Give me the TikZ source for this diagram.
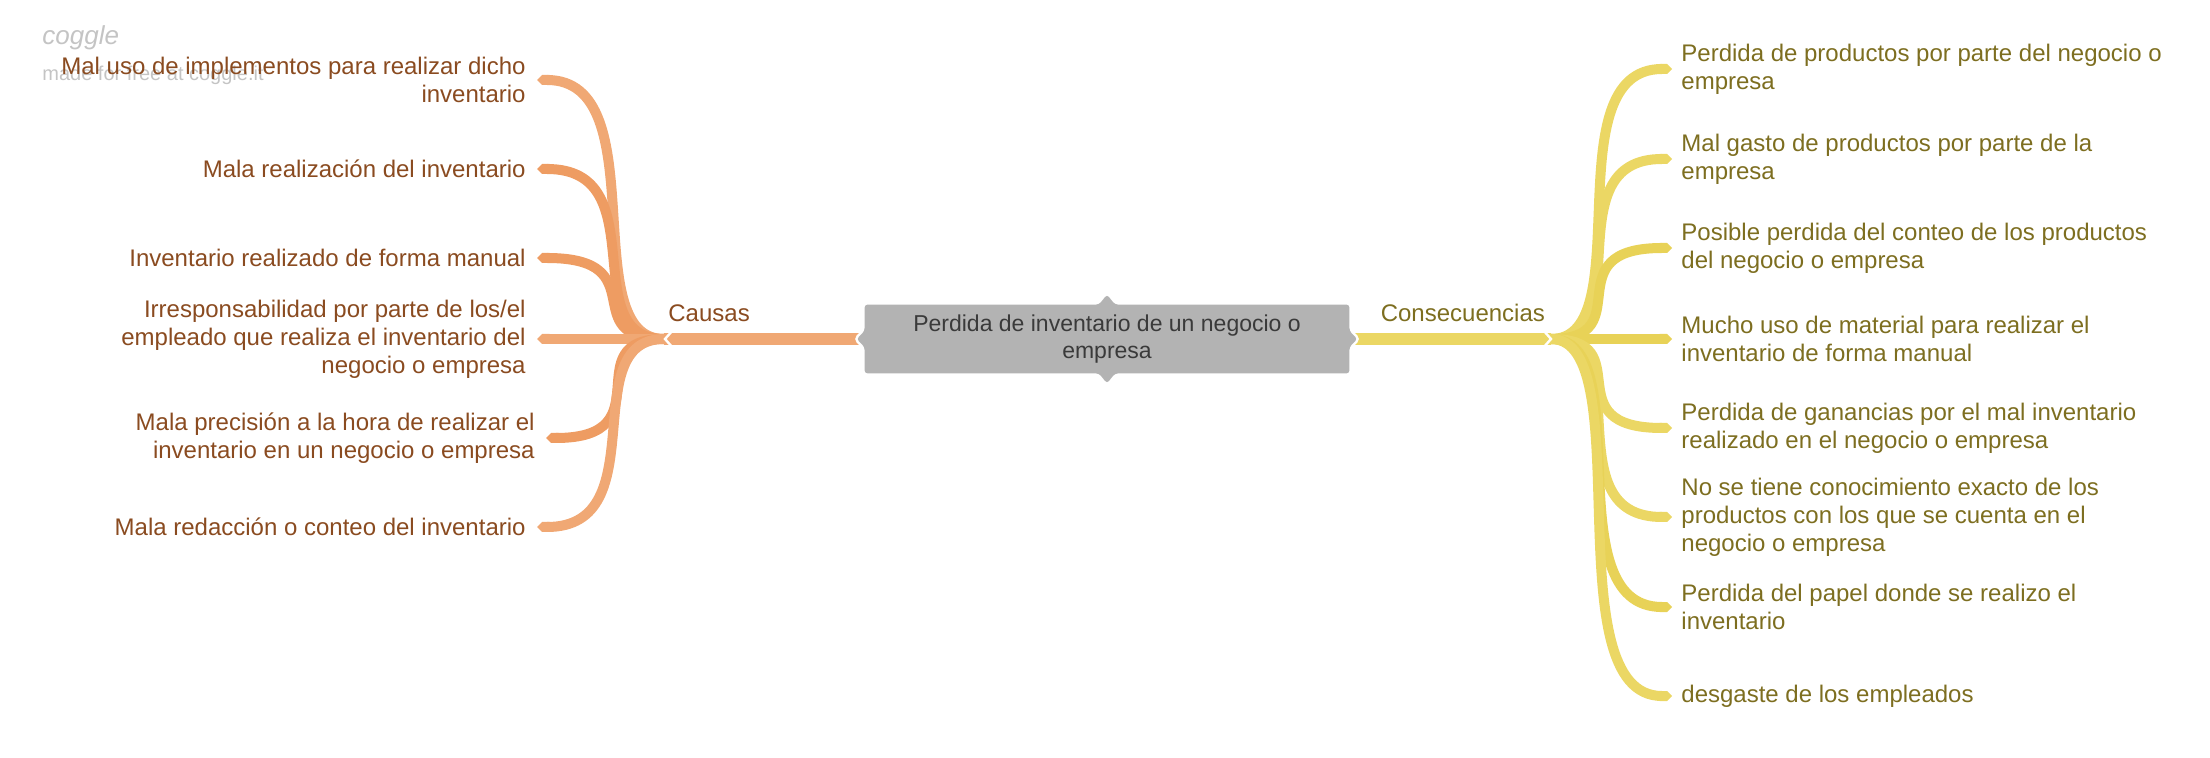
\documentclass[tikz,border=0pt]{standalone}
\usepackage{fontspec}
\setmainfont{Liberation Sans}
\usetikzlibrary{positioning,arrows.meta,backgrounds}
\definecolor{causeline}{HTML}{F0A874}
\definecolor{causedark}{HTML}{EE9C62}
\definecolor{causetext}{HTML}{8A4B20}
\definecolor{effectline}{HTML}{EBD764}
\definecolor{effectdark}{HTML}{E8D257}
\definecolor{effecttext}{HTML}{7D6E20}
\definecolor{rootfill}{HTML}{B3B3B3}
\definecolor{roottext}{HTML}{3A3A3A}
\definecolor{marktext}{HTML}{C4C4C4}
\tikzset{
  leaftext/.style={inner sep=0pt, font=\fontsize{12}{14}\selectfont},
  cause/.style={leaftext, text=causetext, align=right},
  effect/.style={leaftext, text=effecttext, align=left},
  root/.style={inner sep=0pt, minimum width=242pt, minimum height=34pt, align=center,
    text=roottext, font=\fontsize{11.5}{13.5}\selectfont},
  watermark/.style={inner sep=0pt, text=marktext},
  twig/.style={line width=5pt, -{Triangle Cap}},
  limb/.style={line width=6pt},
  notch/.style={white, line width=1.2pt},
}
\begin{document}
\begin{tikzpicture}[x=0.5pt, y=-0.5pt]
\useasboundingbox (0,0) rectangle (2210,758);

% watermark
\node[watermark, anchor=base west, font=\fontsize{13}{14}\selectfont\itshape] (logo) at (42,45) {coggle};
\node[watermark, anchor=base west, font=\fontsize{10}{12}\selectfont] (madefor) at (42,81) {made for free at coggle.it};

% centre
\node[root] (root) at (1107,339) {Perdida de inventario de un negocio o\\empresa};
\coordinate (hubL) at (664,339);
\coordinate (hubR) at (1551,339);
\node[cause, anchor=south west, above right=8.5pt and 2pt of hubL] (causas) {Causas};
\node[effect, anchor=south west, above right=8.5pt and 15.5pt of root.east] (consec) {Consecuencias};

% causas
\coordinate (c1) at (537,80);
\coordinate (c2) at (537,169);
\coordinate (c3) at (537,258);
\coordinate (c4) at (537,339);
\coordinate (c5) at (546,438);
\coordinate (c6) at (537,527);
\node[cause, left=5.5pt of c1] (cause1) {Mal uso de implementos para realizar dicho\\inventario};
\node[cause, left=5.5pt of c2] (cause2) {Mala realización del inventario};
\node[cause, left=5.5pt of c3] (cause3) {Inventario realizado de forma manual};
\node[cause, left=5.5pt of c4] (cause4) {Irresponsabilidad por parte de los/el\\empleado que realiza el inventario del\\negocio o empresa};
\node[cause, left=5.5pt of c5] (cause5) {Mala precisión a la hora de realizar el\\inventario en un negocio o empresa};
\node[cause, left=5.5pt of c6] (cause6) {Mala redacción o conteo del inventario};

% consecuencias
\coordinate (e1) at (1672,69);
\coordinate (e2) at (1672,159);
\coordinate (e3) at (1672,248);
\coordinate (e4) at (1672,339);
\coordinate (e5) at (1672,428);
\coordinate (e6) at (1672,517);
\coordinate (e7) at (1672,607);
\coordinate (e8) at (1672,696);
\node[effect, right=4.5pt of e1] (effect1) {Perdida de productos por parte del negocio o\\empresa};
\node[effect, right=4.5pt of e2] (effect2) {Mal gasto de productos por parte de la\\empresa};
\node[effect, right=4.5pt of e3] (effect3) {Posible perdida del conteo de los productos\\del negocio o empresa};
\node[effect, right=4.5pt of e4] (effect4) {Mucho uso de material para realizar el\\inventario de forma manual};
\node[effect, right=4.5pt of e5] (effect5) {Perdida de ganancias por el mal inventario\\realizado en el negocio o empresa};
\node[effect, right=4.5pt of e6] (effect6) {No se tiene conocimiento exacto de los\\productos con los que se cuenta en el\\negocio o empresa};
\node[effect, right=4.5pt of e7] (effect7) {Perdida del papel donde se realizo el\\inventario};
\node[effect, right=4.5pt of e8] (effect8) {desgaste de los empleados};

\begin{scope}[on background layer]
  \foreach \leaf/\tone in {c1/causeline, c2/causedark, c3/causedark, c4/causeline, c5/causedark, c6/causeline}
    \draw[twig, \tone] (hubL) .. controls +(-90,0) and +(120,0) .. (\leaf);
  \foreach \leaf/\tone in {e1/effectline, e2/effectline, e3/effectdark, e4/effectdark, e5/effectline, e6/effectline, e7/effectdark, e8/effectline}
    \draw[twig, \tone] (hubR) .. controls +(90,0) and +(-120,0) .. (\leaf);
  \draw[limb, causeline] (hubL) -- (root.west);
  \draw[limb, effectline] (root.east) -- (hubR);
  \draw[notch] ([shift={(9,-9)}]hubL) -- ([shift={(1,0)}]hubL) -- ([shift={(9,9)}]hubL);
  \draw[notch] ([shift={(-8,-9)}]hubR) -- ([shift={(0,0)}]hubR) -- ([shift={(-8,9)}]hubR);
  % box with its four points
  \path[fill=rootfill, preaction={draw=white, line width=2.5pt}, rounded corners=1.5pt]
    (root.north west) -- ([xshift=-4pt]root.north) -- ([yshift=5pt]root.north) -- ([xshift=4pt]root.north) -- (root.north east)
    -- ([yshift=4pt]root.east) -- ([xshift=4pt]root.east) -- ([yshift=-4pt]root.east) -- (root.south east)
    -- ([xshift=4pt]root.south) -- ([yshift=-5pt]root.south) -- ([xshift=-4pt]root.south) -- (root.south west)
    -- ([yshift=-4pt]root.west) -- ([xshift=-4pt]root.west) -- ([yshift=4pt]root.west) -- cycle;
\end{scope}
\end{tikzpicture}
\end{document}
